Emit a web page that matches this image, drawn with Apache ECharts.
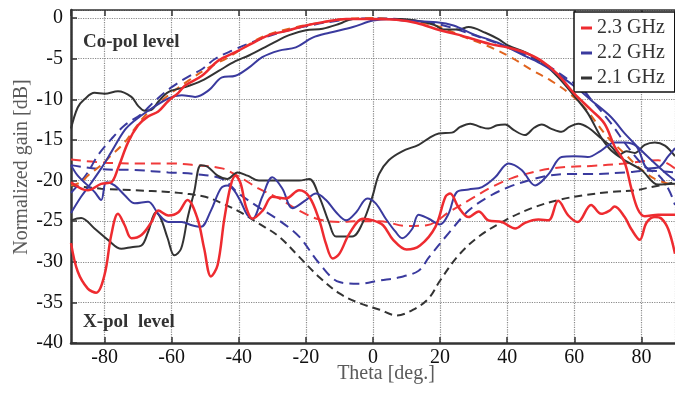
<!DOCTYPE html>
<html><head><meta charset="utf-8">
<script src="https://cdn.jsdelivr.net/npm/echarts@6/dist/echarts.min.js"></script>
<style>html,body{margin:0;padding:0;background:#fff}#c{width:675px;height:393px}</style>
</head><body><div id="c"></div>
<script>
// ---- data: [theta (deg), normalized gain (dB)] ----
const legendNames = ['2.3 GHz', '2.2 GHz', '2.1 GHz'];
const yTicks = [-40, -35, -30, -25, -20, -15, -10, -5, 0];

const coPol23 = [[-90,-20.2],[-85,-21.2],[-81,-20.4],[-78,-20.2],[-76,-18.5],[-73,-15.3],[-70,-13.2],[-67,-12.1],[-64,-11.5],[-61,-10.2],[-58,-9.2],[-56,-8.3],[-51,-7.1],[-46,-5.2],[-41,-4.2],[-36,-3.1],[-31,-2.1],[-25,-1.5],[-20,-0.9],[-15,-0.5],[-8,-0.1],[0,-0.1],[7,-0.2],[13,-0.6],[20,-1.5],[25,-2],[30,-2.6],[35,-3.2],[40,-3.6],[45,-4.2],[50,-5.2],[55,-6.9],[60,-9.3],[65,-11.3],[69,-13],[72,-15.8],[75,-17.8],[77,-21],[79,-23.6],[81,-24.4],[85,-24.2],[90,-24.2]];
const coPol22 = [[-90,-24],[-87,-22],[-84,-20.3],[-81,-18.5],[-78,-16.5],[-74,-13.8],[-71,-12.6],[-67,-11.4],[-61,-9.9],[-57,-9.5],[-53,-9.7],[-49,-8.9],[-45,-7.3],[-41,-7.1],[-37,-6.1],[-33,-4.8],[-28,-4],[-23,-3.6],[-18,-2.4],[-13,-1.8],[-6,-1.1],[0,-0.3],[5,-0.1],[9,-0.3],[19,-0.5],[24,-0.9],[30,-2],[37,-3],[44,-4.4],[50,-5.6],[55,-6.9],[61,-8.7],[65,-10.1],[71,-12.2],[75,-14.2],[79,-15.9],[83,-17.5],[87,-19],[90,-20]];
const coPol21 = [[-90,-13.6],[-88,-11],[-86,-10],[-83,-9.2],[-80,-9.3],[-76,-9],[-72,-9.7],[-70,-10.8],[-68,-11.4],[-66,-11.3],[-64,-10.3],[-61,-9.1],[-56,-8.5],[-51,-7.7],[-46,-6.5],[-41,-5.3],[-37,-4.6],[-30,-3.1],[-25,-2.1],[-20,-1.5],[-15,-1.3],[-10,-0.7],[-6,-0.1],[3,-0.1],[8,-0.1],[12.6,-0.3],[15.6,-0.5],[18.6,-0.9],[21,-1.4],[25.5,-1.4],[28.5,-1.1],[33.5,-1.8],[37.4,-2.6],[40.4,-3.4],[45.3,-4.2],[50.3,-5.4],[55.2,-7.3],[60.2,-9.7],[64,-11.7],[68,-14.7],[71,-16.3],[75,-17.5],[80,-18.7],[85,-20.5],[90,-20.4]];
const coSim23 = [[-90,-20.6],[-87,-20.2],[-85,-19.4],[-81,-18.1],[-78,-16.9],[-74,-15.3],[-71,-13.6],[-67,-11.6],[-61,-9.5],[-55,-7.7],[-49,-6.1],[-43,-4.8],[-38,-3.5],[-33,-2.3],[-25,-1.3],[-15,-0.5],[-8,-0.1],[0,0],[8,-0.2],[15,-0.6],[20,-1.1],[27,-2.3],[34,-3.4],[41,-4.8],[47,-6.3],[53,-7.7],[58,-9.1],[63,-11],[70,-14.7],[75,-16.7],[79,-18.3],[84,-19.8],[90,-20.6]];
const coSim22 = [[-90,-21.5],[-88,-20.6],[-85,-19],[-82,-16.9],[-78,-14.9],[-74,-13.2],[-69,-11.8],[-65,-10.2],[-60,-8.5],[-55,-7.2],[-51,-6.3],[-47,-5],[-42,-4],[-35,-2.8],[-28,-1.8],[-20,-1],[-10,-0.3],[0,0],[10,-0.2],[20,-0.8],[28,-1.8],[35,-2.8],[42,-3.9],[48,-5],[53,-6.1],[58,-7.5],[62,-8.6],[65,-10],[71,-13],[76,-15.9],[81,-18.3],[85,-19.3],[88,-21],[90,-23]];

const xPol23 = [[-90,-27.7],[-88,-31.2],[-85,-33.3],[-82.5,-33.8],[-80,-31.6],[-78,-26.7],[-76,-24.1],[-74,-25.5],[-72,-27.1],[-69,-26.7],[-66,-25.1],[-64,-23.7],[-61,-24.3],[-58,-23.9],[-55.3,-22.4],[-52.3,-24.7],[-50.3,-28.4],[-48.3,-31.8],[-46.3,-30.4],[-44.3,-24.7],[-42.4,-20.6],[-41,-19.4],[-39.5,-20.3],[-37.8,-23.3],[-35.9,-24.7],[-32.9,-23.7],[-30,-22],[-26,-22.2],[-22,-21.2],[-19,-22],[-16,-24.9],[-14,-27.8],[-12,-29.6],[-10,-29],[-7,-26.5],[-3,-24.7],[0,-24.9],[3,-25.5],[6,-27.3],[10,-28.5],[14,-28],[18.6,-25.7],[21.6,-22],[23,-21.6],[25.5,-23.3],[28.5,-24.5],[31.5,-23.8],[34.4,-24.9],[38.4,-25.1],[42.4,-25.9],[45.3,-25.2],[49.3,-24.8],[52.3,-24.9],[55.2,-22.5],[58.2,-24.3],[61,-25.1],[65,-23],[68,-24.1],[70.5,-23.7],[72,-23.2],[75,-24.5],[77,-26],[79.5,-27.3],[81.5,-25.2],[84,-24.5],[86,-24.7],[88,-26],[90,-29]];
const xPol22 = [[-90,-18.1],[-88,-19.4],[-85,-20.6],[-83,-21.4],[-81,-22.4],[-79.5,-20.2],[-77,-20.6],[-74,-21.8],[-71,-22.8],[-67,-22.6],[-64,-24.1],[-61,-25.1],[-57,-25.1],[-54,-25.5],[-51.3,-25.7],[-48.3,-23.7],[-45.4,-21],[-43.4,-20.6],[-41.4,-21.2],[-39.4,-22.6],[-37.5,-24.2],[-35.9,-24.7],[-33,-22],[-30,-19.6],[-27,-21],[-24,-23.4],[-20,-22.4],[-17,-21.6],[-14,-22.4],[-11,-23.9],[-8,-24.9],[-5,-23.9],[-1.7,-22.2],[0.8,-22.8],[3.8,-24.7],[6.7,-26.3],[8.7,-27.1],[11.6,-26],[13.6,-24.2],[16.6,-24.7],[20,-25.4],[22.5,-24.1],[25,-21.4],[28.5,-21.1],[32.5,-20.8],[36.4,-19.6],[40.4,-17.9],[44.3,-18.7],[48.3,-20.6],[52.3,-19.2],[56.2,-17.1],[60,-17],[64,-17.1],[68,-16.3],[72,-15.3],[75,-15.3],[78.5,-15.8],[82,-18.5],[85,-18.4],[88,-17],[90,-16]];
const xPol21 = [[-90,-24.9],[-87,-24.6],[-83,-25.9],[-79,-27.3],[-75,-28.4],[-72,-28.2],[-69,-28],[-67,-26.3],[-64.7,-23.9],[-63.2,-24.7],[-61.2,-27.1],[-59.2,-29.2],[-57.2,-28.4],[-55.3,-24.7],[-53.3,-21.4],[-51.3,-18.1],[-49.3,-18.3],[-46.3,-19.4],[-43.4,-19.8],[-40.4,-19],[-37.4,-19.4],[-34,-20],[-28,-20],[-22,-20],[-19,-19.8],[-16,-22],[-13,-25.3],[-11,-26.9],[-6.2,-26.9],[-3.2,-25.3],[-0.2,-22],[1.8,-19.2],[4.7,-17.5],[8.7,-16.4],[13.6,-15.6],[16.6,-14.8],[19.6,-14.2],[23.5,-14.1],[26,-13.4],[29,-13],[32,-13.4],[34.4,-13.6],[37,-13.2],[39.4,-13.1],[42,-13.8],[45.3,-14.4],[48,-13.5],[50.3,-13.1],[53,-13.6],[56.2,-14],[58.5,-13.4],[61.2,-13],[64.2,-13.5],[68,-14.8],[71,-15.8],[73.5,-16.8],[75.5,-16.4],[78,-16.6],[81,-15.6],[84,-15.3],[87,-15.7],[90,-17]];
const xSim23 = [[-90,-17.4],[-80,-17.8],[-70,-17.9],[-60,-17.9],[-53,-18.1],[-45,-18.5],[-40,-19.5],[-34,-21],[-28,-22.2],[-22,-23.7],[-16,-24.8],[-10,-25.1],[-4,-25],[2,-25],[10,-25.6],[16,-25.5],[23,-23.8],[29.5,-22.2],[35.4,-20.8],[41.4,-19.7],[47.3,-19],[53.3,-18.5],[59,-18.3],[65,-18.2],[75,-17.9],[81,-17.6],[85,-17.5],[90,-18.5]];
const xSim22 = [[-90,-18.1],[-81,-18.6],[-71,-18.7],[-61,-19],[-53,-19.2],[-45,-19.8],[-40,-21.6],[-34,-23.3],[-28,-24.9],[-22,-26.9],[-16,-30.2],[-10,-32.5],[-4,-32.7],[2,-32.3],[8,-31.9],[13.6,-31.1],[16.6,-29.5],[22.5,-26.5],[28.5,-23.7],[34.4,-22],[40.4,-20.8],[46.3,-20],[52.3,-19.4],[58,-19.2],[65,-19.2],[75,-19],[82,-18.8],[90,-19]];
const xSim21 = [[-90,-20.6],[-81,-21],[-71,-21.2],[-61,-21.4],[-56,-21.6],[-50,-22],[-45,-22.8],[-40,-23.8],[-34,-25.3],[-28,-26.9],[-22,-29.4],[-16,-31.9],[-10,-33.9],[-4,-35.1],[2,-35.9],[7,-36.6],[12,-35.9],[16.6,-34.5],[20,-32.3],[25.5,-29.2],[31.5,-26.9],[39.4,-24.9],[47.3,-23.4],[55.2,-22.4],[63,-21.8],[71,-21.4],[78,-21.2],[83,-20.8],[90,-20.2]];

const RED = '#ee2b30', BLUE = '#3a3a9e', BLACK = '#333333', ORANGE = '#e0631e', REDD = '#f03a3a';
const FONT = 'Liberation Serif';

function line(name, data, color, width, dash, z) {
  return {
    name: name, type: 'line', data: data, showSymbol: false, smooth: 0.35,
    lineStyle: { color: color, width: width, type: dash || 'solid' },
    itemStyle: { color: color }, z: z || 2, silent: true, animation: false
  };
}

const series = [
  line('sim 2.1 x', xSim21, BLACK, 2, [8, 5], 2),
  line('sim 2.2 x', xSim22, BLUE, 2, [10, 6], 2),
  line('sim 2.3 x', xSim23, REDD, 2, [10, 6], 2),
  line('sim 2.2 co', coSim22, BLUE, 2, [10, 6], 2),
  line('sim 2.3 co', coSim23, ORANGE, 2, [8, 6], 3),
  line(legendNames[2], coPol21, BLACK, 2, null, 3),
  line('2.1 x', xPol21, BLACK, 2, null, 3),
  line(legendNames[1], coPol22, BLUE, 2, null, 3),
  line('2.2 x', xPol22, BLUE, 2, null, 3),
  line(legendNames[0], coPol23, RED, 2.5, null, 4),
  line('2.3 x', xPol23, RED, 2.5, null, 4)
];

const chart = echarts.init(document.getElementById('c'), null, { renderer: 'canvas' });
chart.setOption({
  animation: false,
  backgroundColor: '#fff',
  grid: { left: 71, right: -2, top: 10, bottom: 50, containLabel: false },
  legend: {
    data: legendNames, orient: 'vertical', left: 574, top: 12,
    backgroundColor: '#fff', borderColor: '#111', borderWidth: 1.5,
    padding: [6, 10, 4, 7], itemGap: 5, itemWidth: 11, itemHeight: 3, icon: 'rect',
    textStyle: { fontFamily: FONT, fontSize: 20, color: '#333' }, selectedMode: false
  },
  xAxis: [{
    type: 'value', min: -90, max: 90, splitNumber: 9, position: 'bottom',
    axisLine: { show: true, onZero: false, lineStyle: { color: '#333', width: 2.5 } },
    axisTick: { show: true, inside: true, length: 6, lineStyle: { color: '#333', width: 1.5 } },
    axisLabel: { fontFamily: FONT, fontSize: 20, color: '#111', margin: 5, showMinLabel: false, showMaxLabel: false },
    splitLine: { show: true, lineStyle: { color: '#8a8a8a', type: 'dotted', width: 1.2 } }
  }, {
    type: 'value', min: -90, max: 90, splitNumber: 9, position: 'top',
    axisLine: { show: true, onZero: false, lineStyle: { color: '#333', width: 1.5 } },
    axisTick: { show: true, inside: true, length: 6, lineStyle: { color: '#333', width: 1.5 } },
    axisLabel: { show: false }, splitLine: { show: false }
  }],
  yAxis: {
    type: 'value', min: -40, max: 1, interval: 5, position: 'left',
    axisLine: { show: true, onZero: false, lineStyle: { color: '#333', width: 2.5 } },
    axisTick: { show: true, inside: true, length: 6, lineStyle: { color: '#333', width: 1.5 } },
    axisLabel: { fontFamily: FONT, fontSize: 20, color: '#111', margin: 8, showMaxLabel: false,
      formatter: v => (yTicks.indexOf(v) >= 0 ? String(v) : '') },
    splitLine: { show: true, lineStyle: { color: '#8a8a8a', type: 'dotted', width: 1.2 } }
  },
  graphic: [
    { type: 'text', x: 22, y: 167, rotation: Math.PI / 2,
      style: { text: 'Normalized gain [dB]', font: '20px ' + FONT, fill: '#5a5a5a', align: 'center', verticalAlign: 'middle' } },
    { type: 'text', x: 386, y: 374,
      style: { text: 'Theta [deg.]', font: '20px ' + FONT, fill: '#5a5a5a', align: 'center', verticalAlign: 'middle' } },
    { type: 'text', x: 83, y: 42, z: 10,
      style: { text: 'Co-pol level', font: 'bold 19px ' + FONT, fill: '#333', align: 'left', verticalAlign: 'middle' } },
    { type: 'text', x: 83, y: 322, z: 10,
      style: { text: 'X-pol  level', font: 'bold 19px ' + FONT, fill: '#333', align: 'left', verticalAlign: 'middle' } }
  ],
  series: series
});
</script></body></html>
